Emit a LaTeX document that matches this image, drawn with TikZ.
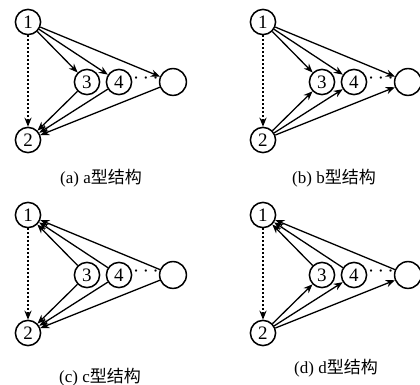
\documentclass[tikz,border=0pt]{standalone}
\usepackage{fontspec}
\setmainfont{Liberation Serif}
\newfontfamily\cjk{Noto Sans CJK SC}
\usetikzlibrary{arrows.meta}
\begin{document}
\begin{tikzpicture}[x=0.5pt,y=-0.5pt,
  num/.style={circle,draw,line width=0.75pt,minimum size=12.6pt,inner sep=0pt,font=\fontsize{9.5}{9.5}\selectfont},
  big/.style={circle,draw,line width=0.75pt,minimum size=13.4pt,inner sep=0pt},
  arr/.style={line width=0.65pt,-{Stealth[length=4.5pt,width=3.6pt]}},
  dotarr/.style={line width=0.85pt,dash pattern=on 0.8pt off 1.2pt,-{Stealth[length=4.5pt,width=3.6pt]}},
  dotsn/.style={inner sep=0pt,font=\fontsize{11}{11}\selectfont},
  captext/.style={inner sep=0pt,font=\fontsize{8.5}{8.5}\selectfont}]
\useasboundingbox (0,0) rectangle (420,385);
% (a)
\node[num] (a1) at (28,22) {1};
\node[num] (a2) at (28,140) {2};
\node[num] (a3) at (87,82) {3};
\node[num] (a4) at (119,82) {4};
\node[big] (aE) at (173,82) {};
\node[dotsn] (aD) at (146,79) {$\cdots$};
\draw[dotarr] (a1) -- (a2);
\draw[arr] (a1) -- (a3);
\draw[arr] (a1) -- (a4);
\draw[arr] (a1) -- (aE);
\draw[arr] (a3) -- (a2);
\draw[arr] (a4) -- (a2);
\draw[arr] (aE) -- (a2);
\node[captext] (aC) at (101,178) {(a) a{\cjk 型结构}};
% (b)
\node[num] (b1) at (263,22) {1};
\node[num] (b2) at (263,140) {2};
\node[num] (b3) at (322,82) {3};
\node[num] (b4) at (354,82) {4};
\node[big] (bE) at (408,82) {};
\node[dotsn] (bD) at (381,79) {$\cdots$};
\draw[dotarr] (b1) -- (b2);
\draw[arr] (b1) -- (b3);
\draw[arr] (b1) -- (b4);
\draw[arr] (b1) -- (bE);
\draw[arr] (b2) -- (b3);
\draw[arr] (b2) -- (b4);
\draw[arr] (b2) -- (bE);
\node[captext] (bC) at (334,178) {(b) b{\cjk 型结构}};
% (c)
\node[num] (c1) at (28,215) {1};
\node[num] (c2) at (28,333) {2};
\node[num] (c3) at (87,275) {3};
\node[num] (c4) at (119,275) {4};
\node[big] (cE) at (173,275) {};
\node[dotsn] (cD) at (146,272) {$\cdots$};
\draw[dotarr] (c1) -- (c2);
\draw[arr] (c3) -- (c1);
\draw[arr] (c4) -- (c1);
\draw[arr] (cE) -- (c1);
\draw[arr] (c3) -- (c2);
\draw[arr] (c4) -- (c2);
\draw[arr] (cE) -- (c2);
\node[captext] (cC) at (100,377) {(c) c{\cjk 型结构}};
% (d)
\node[num] (d1) at (263,215) {1};
\node[num] (d2) at (263,333) {2};
\node[num] (d3) at (322,275) {3};
\node[num] (d4) at (354,275) {4};
\node[big] (dE) at (408,275) {};
\node[dotsn] (dD) at (381,272) {$\cdots$};
\draw[dotarr] (d1) -- (d2);
\draw[arr] (d3) -- (d1);
\draw[arr] (d4) -- (d1);
\draw[arr] (dE) -- (d1);
\draw[arr] (d2) -- (d3);
\draw[arr] (d2) -- (d4);
\draw[arr] (d2) -- (dE);
\node[captext] (dC) at (336,368) {(d) d{\cjk 型结构}};
\end{tikzpicture}
\end{document}
